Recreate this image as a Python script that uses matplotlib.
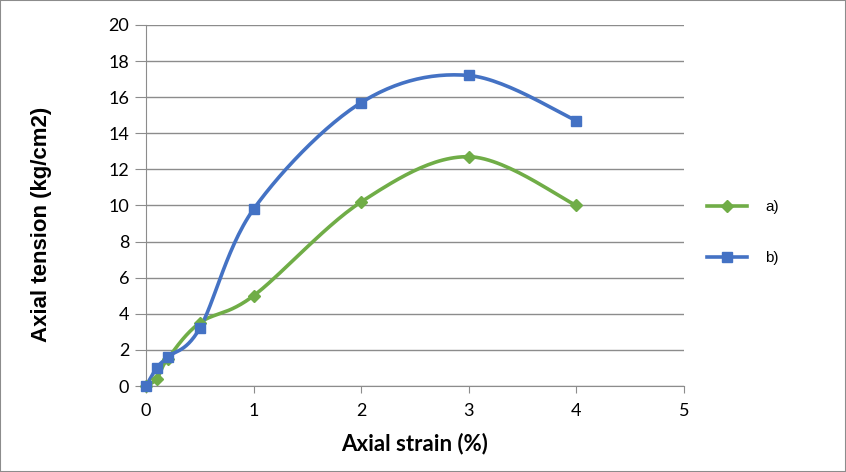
import numpy as np
import matplotlib
matplotlib.use("Agg")
import matplotlib.pyplot as plt
from matplotlib.patches import Rectangle

plt.rcParams['font.family'] = ['Lato', 'DejaVu Sans']

# data
strain = [0, 0.1, 0.2, 0.5, 1, 2, 3, 4]
tension_a = [0, 0.4, 1.5, 3.5, 5.0, 10.2, 12.7, 10.0]
tension_b = [0, 1.0, 1.6, 3.2, 9.8, 15.7, 17.2, 14.7]
x_ticks = [0, 1, 2, 3, 4, 5]
y_ticks = [0, 2, 4, 6, 8, 10, 12, 14, 16, 18, 20]

green = '#70AD47'
blue = '#4472C4'
grid_col = '#8C8C8C'


def smooth(xs, ys, n=30):
    # Excel-like smoothed line: cubic bezier with Catmull-Rom control points
    p = np.column_stack([xs, ys]).astype(float)
    p_ext = np.vstack([p[0], p, p[-1]])
    out = []
    t = np.linspace(0, 1, n)[:, None]
    for i in range(len(p) - 1):
        p0, p1, p2, p3 = p_ext[i], p_ext[i + 1], p_ext[i + 2], p_ext[i + 3]
        c1 = p1 + (p2 - p0) / 6
        c2 = p2 - (p3 - p1) / 6
        seg = ((1 - t) ** 3) * p1 + 3 * ((1 - t) ** 2) * t * c1 + 3 * (1 - t) * t ** 2 * c2 + t ** 3 * p2
        out.append(seg)
    out = np.vstack(out)
    return out[:, 0], out[:, 1]


fig = plt.figure(figsize=(8.46, 4.72), dpi=100)
ax = fig.add_axes([0.1726, 0.1822, 0.636, 0.765])

sx, sy = smooth(strain, tension_a)
ax.plot(sx, sy, color=green, lw=2.6, zorder=3, clip_on=False)
ax.plot(strain, tension_a, ls='none', marker='D', ms=6.5, color=green, zorder=4, clip_on=False)

sx, sy = smooth(strain, tension_b)
ax.plot(sx, sy, color=blue, lw=2.6, zorder=3, clip_on=False)
ax.plot(strain, tension_b, ls='none', marker='s', ms=7, color=blue, zorder=4, clip_on=False)

ax.set_xlim(0, 5)
ax.set_ylim(0, 20)
ax.set_xticks(x_ticks)
ax.set_yticks(y_ticks)
ax.yaxis.grid(True, color=grid_col, lw=1)
ax.set_axisbelow(True)
for s in ['top', 'right']:
    ax.spines[s].set_visible(False)
for s in ['left', 'bottom']:
    ax.spines[s].set_color(grid_col)
ax.tick_params(axis='x', length=5, color=grid_col, labelsize=13, pad=7)
ax.tick_params(axis='y', length=8, color=grid_col, labelsize=13, pad=4)

ax.set_xlabel('Axial strain (%)', fontsize=16, fontweight='bold', va='center')
ax.xaxis.set_label_coords(0.5, -0.158)
ax.set_ylabel('Axial tension (kg/cm2)', fontsize=16, fontweight='bold', va='center',
              family=['Liberation Sans', 'DejaVu Sans'])
ax.yaxis.set_label_coords(-0.195, 0.449)

# legend
h_a, = ax.plot([], [], color=green, lw=2.6, marker='D', ms=6.5)
h_b, = ax.plot([], [], color=blue, lw=2.6, marker='s', ms=7)
fig.legend([h_a, h_b], ['a)', 'b)'], loc='center left', bbox_to_anchor=(0.82, 0.507),
           frameon=False, handlelength=2.6, labelspacing=2.4, handletextpad=1.2,
           prop={'family': ['Liberation Sans', 'DejaVu Sans'], 'size': 11})

fig.patches.append(Rectangle((0, 0), 1, 1, transform=fig.transFigure, fill=False,
                             edgecolor='#8C8C8C', lw=1.5))

fig.savefig('out.png', dpi=100)
